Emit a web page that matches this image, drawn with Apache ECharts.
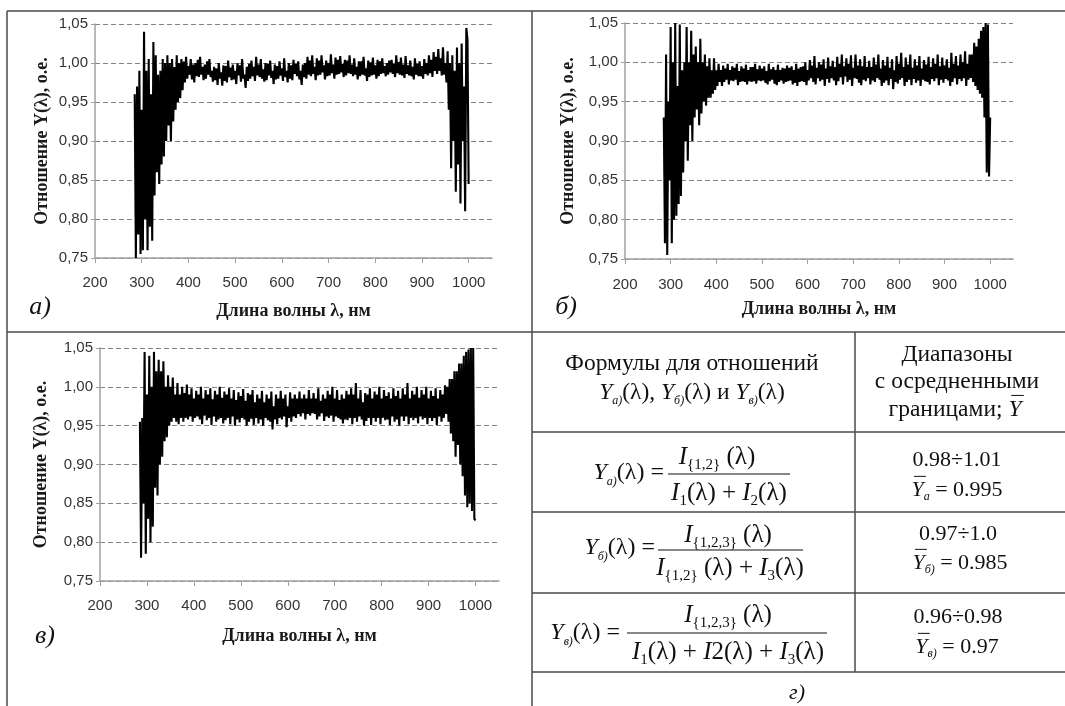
<!DOCTYPE html>
<html>
<head>
<meta charset="utf-8">
<script src="https://cdn.jsdelivr.net/npm/echarts@6/dist/echarts.min.js"></script>
<style>
html,body{margin:0;padding:0;background:#fff;}
#c{width:1065px;height:706px;}
</style>
</head>
<body>
<div id="c"></div>
<script>
// ---------- data, wavelength in nm ----------
const wavelength = [
 285,287.5,290,292.5,295,297.5,300,302.5,305,307.5,
 310,312.5,315,317.5,320,322.5,325,327.5,330,332.5,
 335,337.5,340,342.5,345,347.5,350,352.5,355,357.5,
 360,362.5,365,367.5,370,372.5,375,377.5,380,382.5,
 385,387.5,390,392.5,395,397.5,400,402.5,405,407.5,
 410,412.5,415,417.5,420,422.5,425,427.5,430,432.5,
 435,437.5,440,442.5,445,447.5,450,452.5,455,457.5,
 460,462.5,465,467.5,470,472.5,475,477.5,480,482.5,
 485,487.5,490,492.5,495,497.5,500,502.5,505,507.5,
 510,512.5,515,517.5,520,522.5,525,527.5,530,532.5,
 535,537.5,540,542.5,545,547.5,550,552.5,555,557.5,
 560,562.5,565,567.5,570,572.5,575,577.5,580,582.5,
 585,587.5,590,592.5,595,597.5,600,602.5,605,607.5,
 610,612.5,615,617.5,620,622.5,625,627.5,630,632.5,
 635,637.5,640,642.5,645,647.5,650,652.5,655,657.5,
 660,662.5,665,667.5,670,672.5,675,677.5,680,682.5,
 685,687.5,690,692.5,695,697.5,700,702.5,705,707.5,
 710,712.5,715,717.5,720,722.5,725,727.5,730,732.5,
 735,737.5,740,742.5,745,747.5,750,752.5,755,757.5,
 760,762.5,765,767.5,770,772.5,775,777.5,780,782.5,
 785,787.5,790,792.5,795,797.5,800,802.5,805,807.5,
 810,812.5,815,817.5,820,822.5,825,827.5,830,832.5,
 835,837.5,840,842.5,845,847.5,850,852.5,855,857.5,
 860,862.5,865,867.5,870,872.5,875,877.5,880,882.5,
 885,887.5,890,892.5,895,897.5,900,902.5,905,907.5,
 910,912.5,915,917.5,920,922.5,925,927.5,930,932.5,
 935,937.5,940,942.5,945,947.5,950,952.5,955,957.5,
 960,962.5,965,967.5,970,972.5,975,977.5,980,982.5,
 985,987.5,990,992.5,995,997.5,1000];

// а) Y = I{1,2} / (I1 + I2)
const ratioA = [
 0.96,0.75,0.97,0.78,0.99,0.755,0.94,0.76,1.04,0.80,
 0.99,0.76,1.005,0.79,0.96,0.772,1.027,0.83,1.01,0.86,
 0.985,0.845,0.99,0.87,1.005,0.88,1.0,0.90,1.01,0.92,
 1.0,0.90,1.005,0.925,0.995,0.94,1.01,0.95,1.0,0.955,
 1.005,0.965,1.002,0.975,1.008,0.98,0.996,0.985,1.005,0.979,
 0.998,0.975,1.0,0.983,1.004,0.982,1.008,0.985,0.995,0.978,
 0.998,0.98,1.002,0.985,1.005,0.982,0.99,0.976,0.995,0.978,
 0.993,0.972,1.0,0.98,0.988,0.971,0.997,0.977,0.996,0.975,
 1.003,0.982,0.994,0.978,0.998,0.979,0.99,0.973,1.0,0.984,
 0.997,0.976,1.005,0.98,0.985,0.968,0.995,0.977,0.999,0.98,
 1.003,0.983,0.995,0.977,1.008,0.984,0.998,0.982,1.005,0.98,
 0.992,0.976,1.0,0.978,0.999,0.984,1.003,0.981,0.99,0.973,
 0.998,0.979,0.996,0.98,1.002,0.984,0.993,0.977,1.006,0.982,
 0.99,0.975,1.0,0.98,0.997,0.978,1.004,0.986,0.999,0.983,
 1.002,0.979,0.99,0.972,0.998,0.982,1.0,0.98,1.008,0.985,
 1.003,0.983,1.01,0.986,0.995,0.978,1.006,0.984,1.003,0.985,
 1.01,0.988,0.997,0.979,1.003,0.983,1.0,0.984,1.011,0.987,
 0.998,0.98,1.007,0.985,1.004,0.986,1.009,0.988,0.999,0.982,
 1.004,0.984,1.003,0.987,1.01,0.986,0.998,0.983,1.006,0.985,
 0.995,0.979,1.002,0.983,1.002,0.985,1.008,0.984,0.993,0.977,
 1.003,0.982,1.001,0.984,1.007,0.985,0.997,0.98,1.004,0.983,
 1.002,0.986,1.006,0.987,0.996,0.983,1.0,0.985,1.003,0.988,
 1.004,0.986,0.999,0.982,1.01,0.987,1.001,0.985,1.007,0.984,
 0.998,0.981,1.009,0.986,0.997,0.984,1.003,0.983,0.995,0.979,
 1.006,0.985,0.999,0.983,1.002,0.983,0.996,0.98,1.005,0.986,
 1.0,0.984,1.01,0.987,1.004,0.982,1.014,0.99,1.008,0.986,
 1.018,0.99,1.006,0.984,1.02,0.985,1.0,0.975,1.015,0.94,
 1.0,0.865,1.01,0.90,0.99,0.835,1.02,0.87,1.0,0.82,
 1.025,0.90,0.97,0.81,1.045,1.03,0.845];

// б) Y = I{1,2,3} / (I{1,2} + I3)
const ratioB = [
 0.93,0.77,1.01,0.755,0.95,0.85,1.045,0.77,1.0,0.80,
 1.05,0.805,0.97,0.82,1.048,0.83,0.99,0.86,1.0,0.90,
 1.045,0.875,1.0,0.92,1.04,0.90,1.01,0.93,1.02,0.94,
 1.0,0.92,1.03,0.935,1.0,0.95,1.01,0.945,0.995,0.955,
 1.005,0.955,0.99,0.96,1.005,0.965,0.99,0.97,0.998,0.975,
 0.99,0.97,0.996,0.975,0.992,0.978,0.998,0.972,0.99,0.977,
 0.995,0.976,0.993,0.978,0.998,0.971,0.989,0.975,0.995,0.976,
 0.992,0.975,0.997,0.972,0.99,0.976,0.994,0.975,0.994,0.976,
 0.998,0.973,0.991,0.977,0.996,0.976,0.992,0.977,0.995,0.974,
 0.989,0.972,0.998,0.976,0.991,0.978,0.994,0.973,0.99,0.971,
 0.997,0.975,0.99,0.977,0.993,0.973,0.992,0.975,0.996,0.976,
 0.993,0.977,0.995,0.972,0.99,0.974,0.998,0.97,0.992,0.975,
 0.994,0.976,0.995,0.975,1.0,0.971,0.99,0.977,1.003,0.98,
 0.996,0.975,1.008,0.972,0.993,0.98,1.0,0.976,0.997,0.978,
 1.004,0.97,0.992,0.979,1.006,0.974,0.995,0.98,1.002,0.977,
 0.994,0.971,1.007,0.976,0.998,0.981,1.01,0.972,0.995,0.982,
 1.005,0.975,0.998,0.978,1.009,0.97,0.993,0.98,1.01,0.979,
 0.996,0.974,1.004,0.971,0.995,0.978,1.008,0.976,0.994,0.98,
 1.002,0.972,0.994,0.977,1.006,0.975,0.997,0.98,1.01,0.978,
 0.992,0.97,1.003,0.974,0.996,0.977,1.007,0.971,0.993,0.979,
 1.004,0.966,0.99,0.975,1.008,0.973,0.998,0.978,1.012,0.98,
 0.994,0.97,1.006,0.975,0.997,0.978,1.01,0.971,0.993,0.979,
 1.004,0.974,0.996,0.977,1.008,0.97,0.992,0.978,1.003,0.976,
 0.997,0.975,1.007,0.972,0.994,0.979,1.005,0.976,0.998,0.98,
 1.01,0.971,0.995,0.978,1.006,0.974,0.996,0.979,1.004,0.977,
 0.993,0.97,1.012,0.975,0.998,0.98,1.008,0.972,0.996,0.979,
 1.01,0.976,1.0,0.98,1.014,0.97,0.998,0.978,1.01,0.98,
 1.01,0.975,1.025,0.97,1.02,0.965,1.03,0.96,1.04,0.955,
 1.045,0.93,1.05,0.86,1.048,0.855,0.93];

// в) Y = I{1,2,3} / (I1 + I2 + I3)
const ratioC = [
 0.955,0.78,0.96,0.85,1.045,0.785,0.99,0.83,1.04,0.80,
 1.0,0.82,1.045,0.87,1.02,0.86,1.035,0.90,1.02,0.91,
 1.033,0.93,1.0,0.935,1.015,0.95,1.0,0.955,1.012,0.96,
 0.99,0.955,1.005,0.952,0.99,0.96,1.0,0.955,0.992,0.96,
 1.003,0.958,0.99,0.962,0.998,0.955,0.985,0.96,0.995,0.962,
 0.99,0.958,1.0,0.952,0.985,0.963,0.996,0.957,0.99,0.96,
 0.998,0.951,0.984,0.962,0.995,0.955,0.99,0.958,1.0,0.96,
 0.986,0.953,0.994,0.957,0.99,0.96,0.998,0.952,0.985,0.962,
 0.996,0.95,0.983,0.958,0.993,0.954,0.988,0.96,0.997,0.958,
 0.982,0.95,0.992,0.955,0.99,0.959,0.996,0.951,0.98,0.96,
 0.99,0.953,0.985,0.958,0.995,0.95,0.98,0.96,0.99,0.957,
 0.985,0.955,0.994,0.945,0.975,0.958,0.99,0.952,0.985,0.96,
 0.995,0.958,0.985,0.962,0.99,0.948,0.975,0.96,0.993,0.955,
 0.985,0.962,0.99,0.96,0.985,0.965,0.994,0.962,0.985,0.966,
 0.99,0.958,0.985,0.965,0.996,0.963,0.985,0.966,0.992,0.965,
 0.985,0.958,0.998,0.962,0.982,0.966,0.99,0.956,0.985,0.962,
 0.995,0.96,0.99,0.963,1.0,0.955,0.985,0.962,0.996,0.96,
 0.983,0.958,0.99,0.953,0.985,0.958,0.995,0.957,0.99,0.96,
 0.998,0.952,0.99,0.96,1.005,0.955,0.985,0.962,0.996,0.958,
 0.98,0.95,0.992,0.956,0.99,0.96,0.998,0.951,0.985,0.96,
 0.994,0.955,0.99,0.96,1.0,0.952,0.985,0.96,0.996,0.957,
 0.988,0.958,0.993,0.951,0.985,0.962,0.998,0.955,0.988,0.958,
 0.995,0.95,0.985,0.962,0.998,0.956,0.99,0.962,1.005,0.952,
 0.985,0.96,0.995,0.957,0.99,0.96,1.0,0.953,0.986,0.962,
 0.996,0.958,0.99,0.96,1.0,0.952,0.985,0.96,0.995,0.956,
 0.988,0.96,0.998,0.951,0.985,0.962,0.996,0.955,0.99,0.96,
 1.002,0.965,1.0,0.955,1.01,0.94,1.01,0.93,1.02,0.91,
 1.02,0.925,1.03,0.90,1.03,0.885,1.04,0.86,1.045,0.845,
 1.048,0.85,1.05,0.84,1.05,0.83,0.828];

const xTicks = [200,300,400,500,600,700,800,900,1000];
const xTitle = 'Длина волны λ, нм';
const yTitle = 'Отношение Y(λ), о.е.';
const panelLabels = ['а)', 'б)', 'в)', 'г)'];

// ---------- helpers ----------
const SERIF = 'Liberation Serif';
const SANS = 'Liberation Sans';
const mctx = document.createElement('canvas').getContext('2d');
function measure(t, italic, size) {
  mctx.font = (italic ? 'italic ' : '') + 'normal ' + size + 'px "' + SERIF + '"';
  return mctx.measureText(t).width;
}
// pieces: [text, kind]; kind R=roman, I=italic, s=italic subscript, n=roman subscript, O=italic with overline
function run(pieces, x, y, align, size, subRatio) {
  const sub = Math.round(size * (subRatio || 0.55));
  const dy = (size - sub) * 0.3375 + size * 0.18;
  const items = pieces.map(p => {
    const k = p[1];
    const isSub = (k === 's' || k === 'n');
    const italic = (k === 'I' || k === 's' || k === 'O');
    const sz = isSub ? sub : size;
    return {t: p[0], k, italic, sz, dy: isSub ? dy : 0, w: measure(p[0], italic, sz)};
  });
  const total = items.reduce((a, b) => a + b.w, 0);
  let cx = align === 'center' ? x - total / 2 : (align === 'right' ? x - total : x);
  const els = [];
  items.forEach(it => {
    els.push({
      type: 'text', x: cx, y: y + it.dy, silent: true,
      style: {text: it.t, fontFamily: SERIF, fontSize: it.sz, fontStyle: it.italic ? 'italic' : 'normal',
        fill: '#111', align: 'left', verticalAlign: 'middle', textAlign: 'left', textVerticalAlign: 'middle'}
    });
    if (it.k === 'O') {
      const oy = y - size * 0.62;
      els.push({type: 'line', silent: true, shape: {x1: cx + size * 0.12, y1: oy, x2: cx + it.w + size * 0.1, y2: oy},
        style: {stroke: '#111', lineWidth: 1}});
    }
    cx += it.w;
  });
  return els;
}
function hline(x1, x2, y, w, c) { return {type: 'line', silent: true, shape: {x1, y1: y, x2, y2: y}, style: {stroke: c || '#4a4a4a', lineWidth: w || 1.5}}; }
function vline(x, y1, y2, w, c) { return {type: 'line', silent: true, shape: {x1: x, y1, x2: x, y2}, style: {stroke: c || '#4a4a4a', lineWidth: w || 1.5}}; }
function label(t, x, y, size) {
  return {type: 'text', x, y, silent: true, style: {text: t, fontFamily: SERIF, fontSize: size, fontStyle: 'italic',
    fill: '#111', align: 'center', verticalAlign: 'middle', textAlign: 'center', textVerticalAlign: 'middle'}};
}

// ---------- chart axes ----------
const gridBoxes = [
  {left: 95, top: 24, width: 397, height: 234},
  {left: 625, top: 23, width: 388, height: 236},
  {left: 100, top: 348, width: 399, height: 233}
];
const yNameGaps = [44, 48, 50];
const xNameGaps = [44, 41, 46];
const xLabelMargins = [17, 18, 17];

function xAx(i) {
  return {
    gridIndex: i, type: 'value', min: 200, max: 1050, interval: 100,
    axisLine: {show: true, lineStyle: {color: '#a0a0a0', width: 1.5}},
    axisTick: {show: true, length: 5, customValues: xTicks, lineStyle: {color: '#a0a0a0', width: 1}},
    axisLabel: {fontFamily: SANS, fontSize: 15, color: '#333', margin: xLabelMargins[i],
      formatter: v => (v > 1000 ? '' : String(v))},
    splitLine: {show: false},
    name: xTitle, nameLocation: 'middle', nameGap: xNameGaps[i],
    nameTextStyle: {fontFamily: SERIF, fontWeight: 'bold', fontSize: 18, color: '#1a1a1a'}
  };
}
function yAx(i) {
  return {
    gridIndex: i, type: 'value', min: 0.75, max: 1.05, interval: 0.05,
    axisLine: {show: true, lineStyle: {color: '#a0a0a0', width: 1.5}},
    axisTick: {show: true, length: 4, lineStyle: {color: '#a0a0a0', width: 1}},
    axisLabel: {fontFamily: SANS, fontSize: 15, color: '#333', margin: 7,
      formatter: v => v.toFixed(2).replace('.', ',')},
    splitLine: {show: true, lineStyle: {color: '#848484', width: 1, type: [5, 3]}},
    name: yTitle, nameLocation: 'middle', nameGap: yNameGaps[i],
    nameTextStyle: {fontFamily: SERIF, fontWeight: 'bold', fontSize: 18, color: '#1a1a1a'}
  };
}
function lineSeries(i, vals) {
  return {
    type: 'line', xAxisIndex: i, yAxisIndex: i, showSymbol: false, symbol: 'none',
    data: wavelength.map((w, k) => [w, vals[k]]),
    lineStyle: {color: '#000', width: 2.1, join: 'miter', miterLimit: 2}, animation: false, z: 3
  };
}

// ---------- figure frame, table and formulas ----------
const g = [];
g.push(hline(7, 1065, 11));
g.push(vline(7, 11, 706));
g.push(vline(532, 11, 706));
g.push(hline(7, 1065, 332));
g.push(vline(855, 332, 672));
g.push(hline(532, 1065, 432));
g.push(hline(532, 1065, 512));
g.push(hline(532, 1065, 593));
g.push(hline(532, 1065, 672));

g.push(label(panelLabels[0], 40, 307, 26));
g.push(label(panelLabels[1], 566, 307, 26));
g.push(label(panelLabels[2], 45, 636, 26));
g.push(label(panelLabels[3], 797, 693, 22));

// header
g.push(...run([['Формулы для отношений', 'R']], 692, 364, 'center', 23.5));
g.push(...run([['Y', 'I'], ['а)', 's'], ['(λ), ', 'R'], ['Y', 'I'], ['б)', 's'], ['(λ) и ', 'R'], ['Y', 'I'], ['в)', 's'], ['(λ)', 'R']], 692, 393, 'center', 23.5, 0.5));
g.push(...run([['Диапазоны', 'R']], 957, 355, 'center', 23.5));
g.push(...run([['с осредненными', 'R']], 957, 382, 'center', 23.5));
g.push(...run([['границами; ', 'R'], ['Y', 'O']], 955, 410, 'center', 23.5));

// row 1
g.push(...run([['Y', 'I'], ['а)', 's'], ['(λ) =', 'R']], 664, 473, 'right', 24, 0.5));
g.push(hline(668, 790, 474, 1, '#111'));
g.push(...run([['I', 'I'], ['{1,2}', 'n'], [' (λ)', 'R']], 717, 457, 'center', 25, 0.6));
g.push(...run([['I', 'I'], ['1', 'n'], ['(λ) + ', 'R'], ['I', 'I'], ['2', 'n'], ['(λ)', 'R']], 729, 493, 'center', 25, 0.6));
g.push(...run([['0.98÷1.01', 'R']], 957, 460, 'center', 22));
g.push(...run([['Y', 'O'], ['а', 's'], [' = 0.995', 'R']], 957, 490, 'center', 22));

// row 2
g.push(...run([['Y', 'I'], ['б)', 's'], ['(λ) =', 'R']], 655, 548, 'right', 24, 0.5));
g.push(hline(658, 803, 550, 1, '#111'));
g.push(...run([['I', 'I'], ['{1,2,3}', 'n'], [' (λ)', 'R']], 728, 535, 'center', 25, 0.6));
g.push(...run([['I', 'I'], ['{1,2}', 'n'], [' (λ) + ', 'R'], ['I', 'I'], ['3', 'n'], ['(λ)', 'R']], 730, 568, 'center', 25, 0.6));
g.push(...run([['0.97÷1.0', 'R']], 958, 534, 'center', 22));
g.push(...run([['Y', 'O'], ['б)', 's'], [' = 0.985', 'R']], 960, 563, 'center', 22));

// row 3
g.push(...run([['Y', 'I'], ['в)', 's'], ['(λ) =', 'R']], 620, 633, 'right', 24, 0.5));
g.push(hline(627, 827, 633, 1, '#111'));
g.push(...run([['I', 'I'], ['{1,2,3}', 'n'], [' (λ)', 'R']], 728, 615, 'center', 25, 0.6));
g.push(...run([['I', 'I'], ['1', 'n'], ['(λ) + ', 'R'], ['I', 'I'], ['2(λ) + ', 'R'], ['I', 'I'], ['3', 'n'], ['(λ)', 'R']], 728, 652, 'center', 25, 0.6));
g.push(...run([['0.96÷0.98', 'R']], 958, 617, 'center', 22));
g.push(...run([['Y', 'O'], ['в)', 's'], [' = 0.97', 'R']], 957, 647, 'center', 22));

const chart = echarts.init(document.getElementById('c'), null, {renderer: 'canvas'});
chart.setOption({
  animation: false,
  backgroundColor: '#fff',
  grid: gridBoxes.map(b => Object.assign({containLabel: false, outerBoundsMode: 'none'}, b)),
  xAxis: [xAx(0), xAx(1), xAx(2)],
  yAxis: [yAx(0), yAx(1), yAx(2)],
  series: [lineSeries(0, ratioA), lineSeries(1, ratioB), lineSeries(2, ratioC)],
  graphic: {elements: g}
});
</script>
</body>
</html>
